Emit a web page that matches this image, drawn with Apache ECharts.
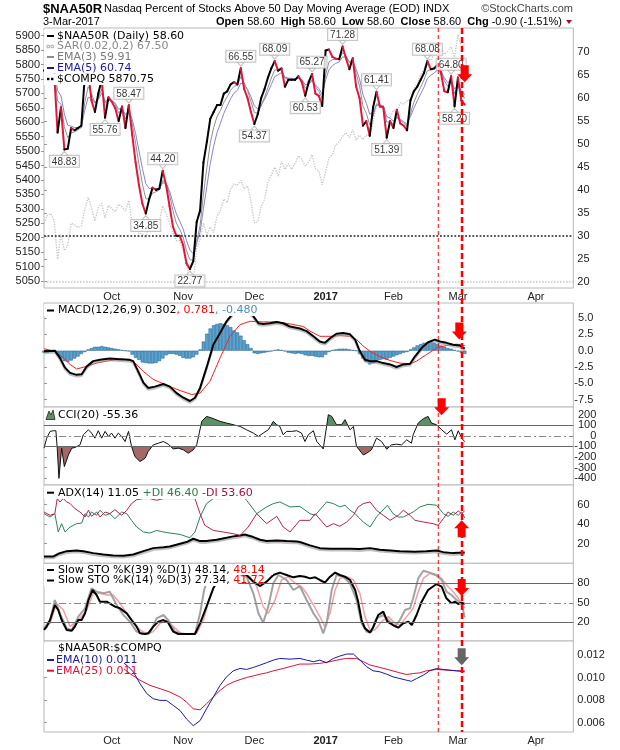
<!DOCTYPE html>
<html>
<head>
<meta charset="utf-8">
<title>$NAA50R</title>
<script src="https://cdn.jsdelivr.net/npm/echarts@6.0.0/dist/echarts.min.js"></script>
<style>
  html, body { margin: 0; padding: 0; background: #fff; }
  #chart { width: 620px; height: 750px; }
</style>
</head>
<body>
<div id="chart"></div>
<script>
// x = trading day index: 0 is 2-Sep-2016, 124 is 3-Mar-2017, the axis runs on into April
const lastDay = 156
const monthTicks = [20, 41, 62, 83, 103, 122, 145]
const monthNames = ["Oct", "Nov", "Dec", "2017", "Feb", "Mar", "Apr"]

const naaTicks = [20, 25, 30, 35, 40, 45, 50, 55, 60, 65, 70]
const compqTicks = [5050, 5100, 5150, 5200, 5250, 5300, 5350, 5400, 5450, 5500, 5550, 5600, 5650, 5700, 5750, 5800, 5850, 5900]
const macdTicks = [-7.5, -5, -2.5, 0, 2.5, 5]
const cciTicks = [-400, -300, -200, -100, 0, 100, 200]
const adxTicks = [20, 40, 60]
const stoTicks = [20, 50, 80]
const ratioTicks = [0.006, 0.008, 0.010, 0.012]

// $NAA50R daily close
const naa50r = [66.0, 67.0, 67.5, 65.5, 52.5, 58.0, 48.83, 49.0, 53.5, 53.0,
    53.5, 54.0, 64.5, 66.0, 59.5, 57.0, 61.0, 64.0, 55.76, 60.2,
    59.2, 57.8, 55.0, 58.2, 53.5, 58.47, 52.0, 46.0, 41.0, 37.0,
    34.85, 38.0, 40.5, 40.0, 40.3, 44.2, 41.0, 36.5, 32.0, 30.0,
    30.0, 28.0, 24.0, 22.77, 24.5, 33.0, 35.5, 46.0, 50.5, 55.5,
    57.0, 58.5, 58.5, 61.0, 61.5, 63.0, 63.5, 63.0, 66.55, 62.0,
    60.0, 57.0, 54.37, 56.5, 60.0, 62.0, 64.5, 66.5, 68.09, 66.0,
    66.5, 62.5, 64.0, 64.0, 64.0, 64.8, 63.5, 60.53, 63.5, 65.27,
    61.0, 60.5, 58.3, 70.4, 70.6, 69.0, 68.6, 68.5, 71.28, 68.7,
    66.3, 68.7, 62.5, 60.0, 54.0, 55.0, 51.8, 58.0, 61.41, 58.2,
    58.0, 51.39, 55.0, 53.5, 57.5, 54.5, 54.0, 53.0, 59.5, 61.5,
    62.5, 64.0, 65.5, 68.08, 66.3, 66.5, 67.3, 65.5, 61.5, 61.3,
    64.8, 58.2, 64.5, 59.5, 58.6]

const ema3 = [66.0, 66.5, 67.0, 66.3, 59.4, 58.7, 53.8, 51.4, 52.4, 52.7,
    53.1, 53.6, 59.0, 62.5, 61.0, 59.0, 60.0, 62.0, 58.9, 59.5,
    59.4, 58.6, 56.8, 57.5, 55.5, 57.0, 54.5, 50.2, 45.6, 41.3,
    38.1, 38.0, 39.3, 39.6, 40.0, 42.1, 41.5, 39.0, 35.5, 32.8,
    31.4, 29.7, 26.8, 24.8, 24.7, 28.8, 32.2, 39.1, 44.8, 50.2,
    53.6, 56.0, 57.3, 59.1, 60.3, 61.7, 62.6, 62.8, 64.7, 63.3,
    61.7, 59.3, 56.9, 56.7, 58.3, 60.2, 62.3, 64.4, 66.2, 66.1,
    66.3, 64.4, 64.2, 64.1, 64.0, 64.4, 64.0, 62.2, 62.9, 64.1,
    62.5, 61.5, 59.9, 65.1, 67.9, 68.4, 68.5, 68.5, 69.9, 69.3,
    67.8, 68.2, 65.4, 62.7, 58.3, 56.7, 54.2, 56.1, 58.8, 58.5,
    58.2, 54.8, 54.9, 54.2, 55.9, 55.2, 54.6, 53.8, 56.6, 59.1,
    60.8, 62.4, 64.0, 66.0, 66.2, 66.3, 66.8, 66.2, 63.8, 62.6,
    63.7, 61.0, 62.7, 61.1, 59.91]

const ema5 = [66.0, 66.3, 66.7, 66.3, 61.7, 60.5, 56.6, 54.1, 53.9, 53.6,
    53.6, 53.7, 57.3, 60.2, 60.0, 59.0, 59.7, 61.1, 59.3, 59.6,
    59.5, 58.9, 57.6, 57.8, 56.4, 57.1, 55.4, 52.3, 48.5, 44.7,
    41.4, 40.3, 40.4, 40.3, 40.3, 41.6, 41.4, 39.8, 37.2, 34.8,
    33.2, 31.5, 29.0, 26.9, 26.1, 28.4, 30.8, 35.9, 40.8, 45.7,
    49.5, 52.5, 54.5, 56.7, 58.3, 59.9, 61.1, 61.7, 63.3, 62.9,
    61.9, 60.3, 58.3, 57.7, 58.5, 59.7, 61.3, 63.0, 64.7, 65.1,
    65.6, 64.6, 64.4, 64.3, 64.2, 64.4, 64.1, 62.9, 63.1, 63.8,
    62.9, 62.1, 60.8, 64.0, 66.2, 67.1, 67.6, 67.9, 69.0, 68.9,
    68.0, 68.2, 66.3, 64.2, 60.8, 58.9, 56.5, 57.0, 58.5, 58.4,
    58.3, 56.0, 55.7, 55.0, 55.8, 55.4, 54.9, 54.3, 56.0, 57.8,
    59.4, 60.9, 62.4, 64.3, 65.0, 65.5, 66.1, 65.9, 64.4, 63.4,
    63.9, 62.0, 62.8, 61.7, 60.74]

// $COMPQ close, left scale
const compq = [5249.9, 5275.9, 5283.9, 5259.5, 5125.9, 5211.9, 5155.3, 5173.8, 5249.7, 5244.6,
    5235.0, 5241.4, 5295.2, 5339.5, 5305.8, 5257.5, 5305.7, 5318.6, 5269.2, 5312.0,
    5300.9, 5289.7, 5316.0, 5306.9, 5292.4, 5328.7, 5246.8, 5239.0, 5213.3, 5214.2,
    5199.8, 5243.8, 5246.4, 5241.8, 5257.4, 5309.8, 5283.4, 5250.3, 5215.9, 5190.1,
    5189.1, 5153.6, 5105.6, 5058.4, 5046.4, 5166.2, 5193.5, 5251.1, 5208.8, 5237.1,
    5218.4, 5275.6, 5294.6, 5333.9, 5321.5, 5368.9, 5386.4, 5380.7, 5398.9, 5368.8,
    5379.9, 5323.7, 5251.1, 5255.7, 5308.9, 5333.0, 5393.8, 5417.4, 5444.5, 5412.5,
    5463.8, 5436.7, 5456.9, 5437.2, 5457.4, 5483.9, 5471.4, 5447.4, 5462.7, 5487.4,
    5438.6, 5432.1, 5383.1, 5429.1, 5477.0, 5487.9, 5521.1, 5531.8, 5551.8, 5563.6,
    5547.5, 5574.1, 5538.7, 5555.6, 5540.1, 5555.3, 5552.9, 5600.9, 5656.3, 5655.2,
    5660.8, 5613.7, 5614.8, 5642.6, 5636.2, 5666.8, 5663.5, 5674.2, 5682.4, 5715.2,
    5734.1, 5763.9, 5782.6, 5819.4, 5814.9, 5838.6, 5865.9, 5860.6, 5835.5, 5845.3,
    5861.9, 5825.4, 5904.0, 5861.2, 5870.75]

// [day, value, label above (t) or below (b)]
const peakLabels = [[6, 48.83, "b"], [18, 55.76, "b"], [25, 58.47, "t"], [30, 34.85, "b"],
    [35, 44.20, "t"], [43, 22.77, "b"], [58, 66.55, "t"], [62, 54.37, "b"], [68, 68.09, "t"],
    [77, 60.53, "b"], [79, 65.27, "t"], [88, 71.28, "t"], [98, 61.41, "t"], [101, 51.39, "b"],
    [113, 68.08, "t"], [120, 64.80, "t"], [121, 58.20, "b"]]

// MACD(12,26,9)
const macdLine = [[0, -0.1], [3.2, 0.0], [4.7, -1.1], [6.2, -2.6], [7.7, -3.4], [9.6, -3.7], [11.1, -3.6],
    [12.6, -2.4], [14.5, -1.6], [16.5, -1.4], [19.4, -1.2], [22.4, -1.3], [25.3, -1.4], [26.3, -1.6],
    [27.8, -3.2], [29.3, -4.9], [30.7, -5.7], [32.7, -5.5], [35.2, -5.1], [37.1, -5.5], [39.1, -6.5],
    [41.1, -7.2], [43.0, -7.7], [44.5, -7.2], [46.0, -5.7], [47.9, -2.6], [49.9, 0.9], [51.9, 2.7],
    [53.8, 4.5], [55.8, 5.8], [57.5, 6.5], [59.5, 6.4], [61.7, 5.3], [63.2, 4.2], [64.6, 4.1],
    [66.6, 4.2], [68.6, 4.4], [70.5, 4.2], [72.5, 3.7], [75.4, 3.4], [77.4, 3.0], [79.4, 2.2],
    [81.3, 1.4], [82.8, 1.2], [84.3, 1.9], [86.2, 2.6], [88.2, 2.7], [90.2, 2.5], [91.7, 1.7],
    [93.1, -0.1], [94.6, -1.4], [96.1, -1.6], [98.0, -1.6], [100.0, -1.9], [102.0, -2.1],
    [103.9, -2.5], [105.9, -2.1], [107.9, -2.0], [109.3, -0.9], [111.3, 0.4], [113.2, 1.3],
    [115.2, 1.7], [116.7, 1.4], [118.6, 1.2], [120.6, 0.9], [122.5, 0.8], [124, 0.302]]
const macdSignal = [[0, 0.3], [3.2, -0.1], [5.7, -1.1], [7.7, -2.1], [9.6, -2.8], [12.6, -2.4],
    [15.5, -1.9], [19.4, -1.5], [23.4, -1.3], [26.3, -1.6], [29.3, -3.2], [32.2, -4.4], [36.2, -5.3],
    [40.1, -6.1], [43.5, -6.7], [46.0, -6.5], [48.9, -4.7], [51.9, -1.1], [54.8, 2.2], [57.8, 4.0],
    [60.7, 4.5], [64.6, 4.4], [68.6, 4.4], [72.5, 4.1], [76.4, 3.7], [78.4, 3.0], [81.3, 2.2],
    [84.3, 2.2], [87.2, 2.3], [90.2, 2.2], [92.1, 1.7], [94.1, 0.7], [96.1, -0.1], [99.0, -0.9],
    [102.0, -1.5], [104.9, -1.9], [107.9, -2.0], [109.8, -1.6], [112.7, -0.6], [115.7, 0.4],
    [118.6, 0.8], [121.6, 1.0], [124, 0.781]]
const macdHist = [-0.3, -0.3, -0.2, 0.0, -0.6, -1.2, -1.6, -1.7, -1.5, -1.2, -0.9, -0.5, -0.2,
    0.2, 0.4, 0.6, 0.6, 0.7, 0.6, 0.5, 0.4, 0.3, 0.2, 0.1, 0.0, -0.1,
    -0.6, -1.1, -1.4, -1.8, -1.9, -1.95, -1.95, -1.9, -1.6, -1.2, -0.7, -0.5, -0.5, -0.6, -0.8,
    -1.1, -1.2, -1.2, -1.0, -0.6, 0.2,
    1.4, 2.6, 3.4, 3.9, 4.1, 4.2, 4.1, 3.9, 3.6, 3.1, 2.8, 2.3, 1.6, 1.0, 0.4,
    -0.4, -0.5, -0.4, -0.3, -0.2, -0.1, 0.1, 0.2, 0.1, -0.1, -0.3, -0.4, -0.5, -0.4, -0.5, -0.7, -0.8,
    -0.8, -0.9, -1.0, -1.0, -0.6, -0.2, 0.1, 0.2, 0.3, 0.3,
    0.3, 0.2, 0.1, 0.0, -0.5, -1.2, -1.7, -2.1, -1.9, -1.6,
    -1.4, -1.3, -1.4, -1.1, -0.9, -0.7, -0.5, -0.3, -0.2, 0.2,
    0.5, 0.8, 1.0, 1.2, 1.3, 1.3, 1.2, 1.0, 0.8, 0.6,
    0.4, 0.3, 0.1, -0.1, -0.3, -0.48]

// CCI(20)
const cci = [[0, -117], [0.8, -22], [1.8, 42], [2.8, 48], [3.5, 48], [3.9, -117], [4.4, -403],
    [5.2, -117], [6.0, -292], [7.2, -181], [8.2, -117], [9.1, -111], [10.6, -86], [11.6, 10],
    [13.1, 57], [14.0, 26], [15.0, -22], [16.0, 48], [17.0, -22], [18.0, 42], [19.0, -6], [19.9, 26],
    [20.9, -22], [21.9, 26], [22.9, -6], [23.9, -54], [24.9, 42], [25.8, -101], [26.8, -197],
    [28.3, -244], [29.8, -212], [30.7, -149], [32.2, -86], [33.7, -70], [35.2, -54], [36.6, -79],
    [38.1, -124], [39.6, -117], [41.1, -133], [42.5, -165], [44.0, -133], [45.0, -86], [46.5, 137],
    [47.9, 184], [49.4, 169], [51.9, 137], [53.8, 121], [55.8, 105], [57.8, 89], [59.7, 57],
    [61.7, 26], [63.2, -6], [64.6, 26], [66.1, 57], [67.6, 137], [68.6, 105], [69.5, 89], [70.5, 10],
    [71.5, 42], [73.0, 42], [74.5, 48], [75.9, 26], [76.9, -54], [77.9, 10], [79.4, 48], [80.4, -54],
    [82.3, -124], [83.8, 200], [84.8, 184], [86.2, 105], [87.7, 105], [88.7, 153], [90.2, 57],
    [91.2, 89], [92.1, -101], [94.1, -181], [95.1, -165], [96.5, -133], [98.0, -22], [99.5, -54],
    [101.0, -127], [102.4, -86], [103.9, -79], [105.4, -86], [106.9, -38], [108.3, -70], [108.8, 10],
    [110.3, 121], [111.8, 162], [113.2, 184], [114.2, 121], [115.7, 105], [117.2, 57], [118.7, 16],
    [120.1, 57], [121.1, -38], [122.1, 48], [123.1, -22], [124, -55.36]]

// ADX(14), +DI, -DI
const adx = [[0, 7.0], [2.8, 7.0], [4.2, 9.7], [6.7, 12.4], [9.6, 13.1], [11.6, 12.4], [14.5, 10.4],
    [17.5, 9.0], [20.4, 8.0], [23.4, 7.7], [26.3, 9.0], [29.3, 12.4], [32.2, 15.5], [35.2, 16.5],
    [37.1, 17.2], [40.1, 20.0], [42.0, 21.7], [44.0, 25.1], [46.0, 22.7], [47.9, 22.7], [50.9, 24.1],
    [53.8, 26.1], [55.8, 27.5], [57.8, 28.5], [59.2, 29.5], [61.7, 26.8], [63.7, 24.1], [65.6, 22.7],
    [68.6, 23.4], [71.5, 22.7], [74.5, 22.3], [75.4, 21.7], [78.4, 18.3], [81.3, 15.5], [84.3, 14.8],
    [90.2, 14.8], [93.1, 14.5], [96.1, 15.5], [99.0, 13.8], [102.0, 13.1], [104.9, 12.4],
    [109.3, 11.8], [112.7, 12.4], [115.7, 13.1], [117.7, 11.4], [120.6, 10.4], [124, 11.05]]
const plusDI = [[0, 50.8], [1.8, 47.3], [3.2, 50.7], [4.2, 32.0], [5.2, 40.5], [6.2, 32.0], [7.7, 37.1],
    [9.6, 40.5], [11.1, 41.1], [12.1, 50.7], [13.1, 47.3], [14.0, 52.4], [15.5, 49.0], [16.5, 54.2],
    [18.0, 49.0], [19.4, 50.7], [20.9, 45.6], [22.9, 52.4], [24.4, 50.7], [25.8, 43.9], [27.3, 37.1],
    [29.3, 32.0], [31.2, 30.9], [33.2, 33.6], [35.2, 32.0], [37.1, 30.9], [40.1, 29.5], [43.0, 26.1],
    [44.5, 32.0], [46.0, 47.3], [47.9, 61.0], [49.9, 66.1], [54.8, 66.1], [56.8, 68.0], [58.8, 68.0],
    [59.7, 64.4], [62.7, 50.7], [65.6, 57.6], [67.6, 61.0], [69.5, 62.7], [72.5, 57.6], [75.4, 58.2],
    [78.4, 50.7], [79.9, 49.0], [83.3, 62.7], [85.3, 61.0], [87.2, 57.6], [88.7, 59.3], [90.2, 54.2],
    [91.7, 50.7], [92.6, 47.3], [94.1, 42.2], [96.1, 37.1], [98.0, 47.3], [101.2, 59.3], [102.9, 50.7],
    [104.4, 47.3], [105.9, 47.3], [108.8, 52.4], [110.8, 57.6], [113.2, 60.3], [115.7, 59.3],
    [117.7, 50.7], [119.1, 48.0], [120.6, 52.4], [122.1, 49.0], [123.1, 52.4], [124, 46.4]]
const minusDI = [[0, 52.4], [1.8, 49.0], [3.2, 50.7], [3.9, 66.1], [4.7, 62.7], [5.7, 66.1], [6.7, 62.7],
    [7.7, 61.0], [9.1, 55.9], [10.6, 52.4], [12.1, 47.3], [13.1, 54.2], [14.0, 47.9], [15.5, 52.4],
    [16.5, 47.3], [18.0, 52.4], [19.4, 50.7], [20.9, 54.8], [22.9, 49.0], [24.4, 54.2], [25.8, 61.0],
    [27.3, 65.0], [29.3, 66.1], [31.2, 66.1], [33.2, 64.4], [35.2, 66.1], [38.1, 66.1], [42.0, 66.1],
    [44.5, 66.1], [46.0, 50.7], [47.4, 38.8], [49.9, 33.6], [52.8, 32.0], [55.8, 30.2], [57.8, 28.5],
    [60.2, 37.1], [62.7, 50.7], [65.6, 40.5], [68.6, 48.0], [70.5, 37.1], [72.5, 32.0], [75.4, 43.9],
    [78.4, 43.9], [79.9, 50.7], [83.3, 37.1], [85.3, 40.5], [87.2, 37.8], [89.2, 42.2], [91.2, 49.0],
    [92.6, 57.6], [94.1, 61.0], [96.1, 62.7], [98.0, 54.2], [100.0, 49.0], [102.0, 43.9], [104.4, 49.0],
    [105.9, 54.2], [107.9, 49.0], [109.3, 43.9], [111.8, 42.2], [114.7, 40.5], [116.2, 38.8],
    [117.7, 45.6], [119.1, 52.4], [120.6, 49.0], [122.1, 53.5], [123.1, 50.7], [124, 53.6]]

// Slow STO %K(39) %D(1), and %K(14) with %D(3)
const stoK39 = [[0, 8.2], [0.8, 13.3], [1.8, 23.5], [3.2, 46.6], [4.2, 38.9], [5.2, 23.5], [6.7, 8.2],
    [8.2, 7.1], [9.1, 13.3], [10.1, 23.5], [11.1, 23.5], [12.1, 33.8], [13.1, 54.3], [14.3, 69.7],
    [15.5, 62.0], [16.5, 51.7], [18.5, 51.7], [20.9, 44.1], [22.4, 41.5], [24.4, 33.8], [25.8, 23.5],
    [27.3, 13.3], [28.3, 3.0], [29.8, 2.0], [30.7, 3.0], [32.2, 13.3], [33.7, 21.0], [35.2, 23.5],
    [36.6, 19.4], [38.1, 5.6], [39.6, 2.0], [44.5, 2.0], [46.0, 18.4], [47.9, 44.1], [49.9, 72.3],
    [51.9, 90], [55.8, 99], [59.7, 92.8], [61.7, 82.5], [63.7, 75.8], [65.6, 82.5], [67.6, 92.8],
    [69.5, 96.4], [71.5, 92.8], [73.5, 89.2], [75.4, 91.3], [76.9, 90.2], [78.4, 87.6], [79.9, 89.2],
    [81.3, 85.1], [82.8, 81.0], [84.3, 90.2], [85.8, 96.4], [87.2, 92.8], [88.7, 90.2], [90.2, 85.1],
    [91.7, 69.7], [92.6, 51.7], [93.6, 23.5], [94.6, 10.7], [96.1, 4.1], [97.1, 13.3], [98.5, 31.2],
    [100.0, 36.4], [101.2, 21.0], [102.9, 15.8], [104.4, 11.7], [105.9, 18.4], [107.4, 21.0],
    [108.4, 15.8], [109.8, 31.2], [111.3, 51.7], [113.2, 69.7], [115.7, 78.9], [117.2, 74.8],
    [118.6, 56.9], [120.1, 49.2], [121.1, 51.7], [122.1, 48.2], [123.1, 50.2], [124, 48.14]]
const stoK14 = [[0, 10.7], [1.8, 23.5], [3.2, 54.3], [4.7, 33.8], [6.7, 10.7], [8.2, 8.2], [10.1, 28.7],
    [12.1, 41.5], [14.0, 72.3], [15.5, 67.1], [17.5, 64.6], [19.4, 67.1], [21.4, 46.6], [23.4, 31.2],
    [25.3, 21.0], [27.3, 5.6], [29.3, 2.0], [31.2, 3.0], [33.2, 26.1], [35.2, 31.2], [36.6, 23.5],
    [38.6, 5.6], [40.6, 2.0], [44.5, 2.0], [46.0, 33.8], [47.2, 69.7], [48.4, 90.2], [50.5, 98],
    [53, 99], [56, 97], [59.7, 90.2], [61.7, 64.6], [63.2, 33.8], [64.6, 19.4], [66.1, 44.1],
    [67.6, 80.0], [69.1, 92.8], [71.5, 85.1], [73.5, 69.7], [75.4, 75.8], [77.4, 54.3], [79.4, 33.8],
    [80.8, 23.5], [82.3, 3.0], [83.3, 18.4], [84.8, 69.7], [86.2, 92.8], [88.2, 90.2], [90.2, 80.0],
    [92.1, 54.3], [93.6, 18.4], [95.1, 5.6], [96.5, 5.6], [98.0, 26.1], [100.0, 31.2], [101.5, 23.5],
    [103.4, 13.3], [104.9, 23.5], [106.4, 38.9], [107.9, 41.5], [108.8, 56.9], [110.3, 87.6],
    [111.8, 99.4], [113.7, 96.4], [115.7, 92.8], [117.2, 85.1], [118.6, 67.1], [120.1, 62.0],
    [121.6, 54.3], [123.1, 49.2], [124, 27.34]]
const stoD3 = [[0, 12.0], [1.8, 18.4], [3.7, 49.2], [5.7, 38.9], [7.7, 13.3], [10.6, 26.1], [12.6, 38.9],
    [14.5, 64.6], [16.5, 64.6], [18.5, 62.0], [20.4, 62.0], [22.4, 49.2], [24.4, 33.8], [26.3, 21.0],
    [28.3, 8.2], [30.3, 2.0], [32.2, 5.6], [34.2, 18.4], [36.1, 23.5], [38.1, 13.3], [40.1, 4.1],
    [42.0, 2.0], [45.0, 3.0], [47.0, 23.5], [48.9, 59.4], [51, 85], [54, 97], [57, 96], [60.7, 90.2],
    [62.7, 74.8], [64.6, 44.1], [66.1, 33.8], [68.1, 54.3], [70.0, 85.1], [72.0, 90.2], [74.0, 80.0],
    [75.9, 74.8], [77.4, 64.6], [79.4, 46.6], [81.3, 28.7], [82.8, 13.3], [84.3, 33.8], [85.8, 69.7],
    [87.2, 87.6], [89.2, 90.2], [91.2, 85.1], [93.1, 64.6], [94.6, 28.7], [96.1, 8.2], [97.5, 8.2],
    [99.5, 21.0], [101.5, 28.7], [103.4, 18.4], [104.9, 15.8], [106.9, 28.7], [108.8, 41.5],
    [110.3, 67.1], [111.8, 87.6], [113.7, 95.3], [115.7, 91.3], [117.2, 87.6], [119.1, 74.8],
    [120.6, 67.1], [122.1, 56.9], [124, 41.72]]

// $NAA50R:$COMPQ ratio, EMA(10) and EMA(25)
const ratioEma10 = [[23.4, 0.01132], [24.9, 0.01096], [26.3, 0.01051], [28.3, 0.00946], [30.3, 0.00857],
    [32.2, 0.00812], [34.2, 0.00797], [36.1, 0.00797], [38.1, 0.00752], [40.1, 0.00707], [42.0, 0.00632],
    [44.0, 0.00572], [46.0, 0.00617], [47.9, 0.00722], [49.9, 0.00827], [51.9, 0.00931], [53.8, 0.01006],
    [55.8, 0.01060], [57.8, 0.01081], [59.7, 0.01072], [61.7, 0.01090], [63.7, 0.01111], [65.6, 0.01132],
    [67.6, 0.01155], [69.5, 0.01170], [72.5, 0.01164], [75.4, 0.01170], [77.4, 0.01155], [79.4, 0.01141],
    [81.3, 0.01155], [83.3, 0.01132], [85.3, 0.01170], [87.2, 0.01191], [89.2, 0.01209], [91.2, 0.01209],
    [93.1, 0.01155], [95.1, 0.01096], [97.0, 0.01060], [99.0, 0.01051], [101.0, 0.01030], [102.9, 0.01006],
    [104.9, 0.00991], [106.9, 0.00976], [108.3, 0.00967], [109.8, 0.00991], [111.8, 0.01021],
    [113.7, 0.01060], [115.7, 0.01081], [117.7, 0.01072], [119.6, 0.01066], [121.6, 0.01060], [124, 0.01051]]
const ratioEma25 = [[23.4, 0.01081], [25.3, 0.01036], [28.3, 0.00976], [31.2, 0.00931], [34.2, 0.00901],
    [37.1, 0.00871], [40.1, 0.00827], [42.0, 0.00782], [44.0, 0.00722], [46.0, 0.00713], [47.9, 0.00767],
    [49.9, 0.00827], [51.9, 0.00886], [53.8, 0.00931], [55.8, 0.00961], [57.8, 0.00982], [59.7, 0.01000],
    [61.7, 0.01015], [63.7, 0.01030], [65.6, 0.01042], [67.6, 0.01060], [70.5, 0.01081], [73.5, 0.01105],
    [75.4, 0.01120], [78.4, 0.01120], [81.3, 0.01126], [84.3, 0.01141], [87.2, 0.01161], [89.2, 0.01170],
    [92.1, 0.01170], [94.1, 0.01141], [96.1, 0.01111], [99.0, 0.01090], [102.0, 0.01066], [104.9, 0.01042],
    [106.9, 0.01027], [108.8, 0.01036], [110.8, 0.01042], [112.7, 0.01060], [115.7, 0.01072],
    [118.6, 0.01066], [121.6, 0.01060], [124, 0.01060]]

// annotations: dashed day markers and arrows [xAxis, yAxis, day, value, direction, colour]
const markDays = [116.2, 123.2]
const arrows = [[0, 0, 124, 63.5, "down", "#ff0000"], [1, 2, 122.4, 1.7, "down", "#ff0000"],
    [2, 3, 117.2, 194, "down", "#ff0000"], [3, 4, 123.1, 43.9, "up", "#ff0000"],
    [4, 5, 123.1, 60.5, "down", "#ff0000"], [5, 6, 123.1, 0.0111, "down", "#666666"]]

const RED = "#e0173d"
const SANS = '"Liberation Sans", Arial, sans-serif'
const VERD = '"DejaVu Sans", Verdana, sans-serif'
const LEG = "11px " + VERD

const daily = arr => arr.map((v, i) => [i, v])

const gridDefs = [[28, 260], [303, 104], [407, 78], [485, 78.3], [563.3, 77.7], [641, 91]]
const grids = gridDefs.map(g => ({
    left: 44, right: 46.7, top: g[0], height: g[1],
    show: true, borderColor: "#b8b8b8", borderWidth: 1, backgroundColor: "#fff",
}))

const xAxes = gridDefs.map((g, i) => {
    const shown = i === 0 || i === 5
    return {
        type: "value", gridIndex: i, min: 0, max: lastDay,
        axisLine: { show: false }, splitLine: { show: false }, axisTick: { show: false },
        axisLabel: {
            show: shown, customValues: monthTicks, margin: 3,
            fontSize: 11, fontFamily: SANS, color: "#222",
            formatter: v => {
                const n = monthNames[monthTicks.indexOf(v)]
                return n === "2017" ? "{b|2017}" : n
            },
            rich: { b: { fontWeight: "bold", fontSize: 11, fontFamily: SANS, color: "#222" } },
        },
    }
})

function valueAxis(grid, pos, min, max, ticks, label) {
    return {
        type: "value", gridIndex: grid, position: pos, min: min, max: max,
        splitLine: { show: false },
        axisLine: { show: false },
        axisTick: { show: true, customValues: ticks, length: 3, lineStyle: { color: "#999" } },
        axisLabel: Object.assign({
            customValues: ticks, fontSize: 11, fontFamily: SANS, color: "#222", margin: 4,
            formatter: v => String(v),
        }, label),
    }
}

const yAxes = [
    valueAxis(0, "right", 18.63, 75.3, naaTicks, {}),
    valueAxis(0, "left", 5025.7, 5926.6, compqTicks, {}),
    valueAxis(1, "right", -8.62, 7.3, macdTicks, { align: "right", margin: 20, formatter: v => v.toFixed(1) }),
    valueAxis(2, "right", -466, 273, cciTicks, { show: false }),  // labels are too tight for the axis, drawn below
    valueAxis(3, "right", 0, 80, adxTicks, {}),
    valueAxis(4, "right", -8.8, 110.8, stoTicks, {}),
    valueAxis(5, "right", 0.00516, 0.01325, ratioTicks, { formatter: v => v.toFixed(3) }),
]

function line(xi, yi, data, color, width, extra) {
    return Object.assign({
        type: "line", xAxisIndex: xi, yAxisIndex: yi, data: data,
        showSymbol: false, symbol: "none", silent: true,
        lineStyle: { color: color, width: width }, z: 3,
    }, extra)
}

const shadow = { shadowColor: "rgba(150,150,150,0.6)", shadowBlur: 0, shadowOffsetY: 1.8 }

function hLines(items) {
    return {
        symbol: "none", silent: true, label: { show: false }, animation: false,
        data: items.map(it => ({ yAxis: it[0], lineStyle: { color: it[1], width: it[2], type: it[3] } })),
    }
}

const dashDot = [7, 3, 2, 3]
const pointerDown = "path://M0,0 L10,0 L5,7 Z"
const pointerUp = "path://M5,0 L10,7 L0,7 Z"

const series = [
    line(0, 1, daily(compq), "#c4c4c4", 1.3, { lineStyle: { color: "#c4c4c4", width: 1.3, type: "dotted" }, z: 2 }),
    line(0, 0, daily(ema5), "#8585cf", 1, {
        markLine: hLines([[30, "#555", 1.8, "dotted"], [20, "#c4c4c4", 1.5, "dotted"]]),
    }),
    line(0, 0, daily(ema3), "#909090", 1),
    {
        type: "custom", xAxisIndex: 0, yAxisIndex: 0, silent: true, z: 5,
        data: naa50r.map((v, i) => [i, v, i > 0 ? naa50r[i - 1] : v]),
        encode: { x: 0, y: 1 },
        renderItem: (params, api) => {
            const i = api.value(0)
            if (i === 0) return
            const p0 = api.coord([i - 1, api.value(2)])
            const p1 = api.coord([i, api.value(1)])
            return {
                type: "line",
                shape: { x1: p0[0], y1: p0[1], x2: p1[0], y2: p1[1] },
                style: { stroke: api.value(1) < api.value(2) ? RED : "#000", lineWidth: 2, lineCap: "round" },
            }
        },
    },
    {
        type: "scatter", xAxisIndex: 0, yAxisIndex: 0, silent: true, z: 6,
        itemStyle: { color: "#fff", borderColor: "#b4b4b4", borderWidth: 1 },
        data: peakLabels.map(p => {
            const top = p[2] === "t"
            return {
                value: [p[0], p[1]],
                symbol: top ? pointerDown : pointerUp,
                symbolSize: [7, 4],
                symbolOffset: [0, top ? -4 : 4],
                label: { position: top ? "top" : "bottom" },
            }
        }),
        label: {
            show: true, distance: 0, formatter: p => p.value[1].toFixed(2),
            fontSize: 10, fontFamily: SANS, color: "#000", backgroundColor: "#fff",
            borderColor: "#b4b4b4", borderWidth: 1, padding: [1, 2, 0, 2],
        },
    },
    {
        type: "bar", xAxisIndex: 1, yAxisIndex: 2, silent: true, data: daily(macdHist),
        barWidth: 3.4, itemStyle: { color: "#58a4d2", borderColor: "#1d5a86", borderWidth: 0.5 }, z: 2,
    },
    line(1, 2, macdSignal, "#ff2020", 1),
    line(1, 2, macdLine, "#000", 2, { lineStyle: Object.assign({ color: "#000", width: 2 }, shadow) }),
    line(2, 3, cci, "#000", 0, { lineStyle: { width: 0, opacity: 0 }, areaStyle: { opacity: 1 }, z: 2 }),
    line(2, 3, cci, "#111", 1, {
        markLine: hLines([[100, "#666", 1, "solid"], [-100, "#666", 1, "solid"], [0, "#888", 1, dashDot]]),
    }),
    line(3, 4, adx, "#000", 2, { lineStyle: Object.assign({ color: "#000", width: 2 }, shadow) }),
    line(3, 4, plusDI, "#2e8256", 1),
    line(3, 4, minusDI, "#b0244e", 1),
    line(4, 5, stoD3, "#f2a0a6", 1.5, {
        markLine: hLines([[80, "#666", 1, "solid"], [20, "#666", 1, "solid"], [50, "#888", 1, dashDot]]),
    }),
    line(4, 5, stoK14, "#a2a2a2", 2),
    line(4, 5, stoK39, "#000", 2),
    line(5, 6, ratioEma25, "#e0103a", 1),
    line(5, 6, ratioEma10, "#1a1a9a", 1),
]

const option = {
    animation: false,
    backgroundColor: "#fff",
    textStyle: { fontFamily: SANS },
    grid: grids,
    xAxis: xAxes,
    yAxis: yAxes,
    visualMap: [{
        type: "piecewise", show: false, seriesIndex: 8, dimension: 1,
        pieces: [
            { gt: 100, color: "#5f8f66" },
            { lt: -100, color: "#a46868" },
            { gte: -100, lte: 100, color: "rgba(255,255,255,0)" },
        ],
    }],
    series: series,
}

const chart = echarts.init(document.getElementById("chart"))
chart.setOption(option)

// ---- text, legends and annotations drawn on top ----
function txt(x, y, text, font, fill, align) {
    return {
        type: "text", x: x, y: y, z: 70, silent: true,
        style: { text: text, font: font, fill: fill || "#000", verticalAlign: "middle", align: align || "left" },
    }
}
function rtxt(x, y, text, font, rich, align) {
    const r = {}
    Object.keys(rich).forEach(k => { r[k] = { fill: rich[k][0], font: rich[k][1] || font } })
    return {
        type: "text", x: x, y: y, z: 70, silent: true,
        style: { text: text, font: font, fill: "#000", verticalAlign: "middle", align: align || "left", rich: r },
    }
}
function box(x, y, w, h) {
    return { type: "rect", z: 65, silent: true, shape: { x: x, y: y, width: w, height: h }, style: { fill: "#fff" } }
}
function dash(y, color) {
    return { type: "rect", z: 70, silent: true, shape: { x: 47, y: y - 1, width: 7, height: 2 }, style: { fill: color } }
}
function dot(x, y, fill, stroke) {
    return { type: "rect", z: 70, silent: true, shape: { x: x, y: y - 1.2, width: 2.4, height: 2.4 },
        style: { fill: fill, stroke: stroke, lineWidth: stroke ? 0.8 : 0 } }
}

const HEAD = "11px " + SANS
const graphics = [
    txt(43, 9, "$NAA50R", "bold 13px " + SANS),
    txt(104, 9, "Nasdaq Percent of Stocks Above 50 Day Moving Average (EOD) INDX", HEAD),
    txt(573, 9, "©StockCharts.com", HEAD, "#444", "right"),
    txt(43, 22, "3-Mar-2017", HEAD),
    rtxt(562, 22, "{b|Open} 58.60  {b|High} 58.60  {b|Low} 58.60  {b|Close} 58.60  {b|Chg} -0.90 (-1.51%)", HEAD,
        { b: ["#000", "bold 11px " + SANS] }, "right"),
    { type: "polygon", z: 70, silent: true, shape: { points: [[566, 20], [572, 20], [569, 24]] }, style: { fill: "#a0102a" } },

    // price panel legend
    box(44, 29.5, 144, 11), box(44, 40.5, 126, 11), box(44, 51.5, 88, 11), box(44, 62.5, 75, 11), box(44, 73.5, 98, 11.5),
    dash(36, "#000"), txt(57, 36, "$NAA50R (Daily) 58.60", LEG),
    dot(47, 46.5, "#fff", "#999"), dot(51, 46.5, "#fff", "#999"), txt(57, 46.5, "SAR(0.02,0.2) 67.50", LEG, "#8a8a8a"),
    dash(57, "#8c8c8c"), txt(57, 57, "EMA(3) 59.91", LEG, "#7a7a7a"),
    dash(68, "#1a1a8c"), txt(57, 68, "EMA(5) 60.74", LEG, "#1a1aa0"),
    dot(47, 79, "#000"), dot(51, 79, "#000"), txt(57, 79, "$COMPQ 5870.75", LEG),

    // MACD
    box(44, 304, 222, 12), dash(310.5, "#000"),
    rtxt(58, 310.5, "{a|MACD(12,26,9) 0.302}{r|, 0.781}{t|, -0.480}", LEG, { a: ["#000"], r: ["#ff0000"], t: ["#4a90b8"] }),

    // CCI
    box(44, 408, 102, 13),
    { type: "polygon", z: 70, silent: true, shape: { points: [[46, 419.5], [49, 411], [51, 415], [53, 410], [55, 419.5]] },
        style: { fill: "#5f8f66", stroke: "#222", lineWidth: 0.8 } },
    txt(58, 414.7, "CCI(20) -55.36", LEG),

    // ADX
    box(44, 486, 217, 13), dash(492.7, "#000"),
    rtxt(58, 492.7, "{a|ADX(14) 11.05 }{g|+DI 46.40 }{r|-DI 53.60}", LEG, { a: ["#000"], g: ["#2a7a4a"], r: ["#a01040"] }),

    // STO
    box(44, 564, 229, 11), box(44, 575, 194, 11),
    dash(570, "#000"), rtxt(58, 570, "{a|Slow STO %K(39) %D(1) 48.14, }{r|48.14}", LEG, { a: ["#000"], r: ["#ff0000"] }),
    dash(580.5, "#000"), rtxt(58, 580.5, "{a|Slow STO %K(14) %D(3) 27.34, }{r|41.72}", LEG, { a: ["#000"], r: ["#ff0000"] }),

    // ratio
    box(44, 642.5, 122, 11.5), box(44, 654, 80, 22.5),
    txt(58, 648.3, "$NAA50R:$COMPQ", LEG),
    dash(660, "#1a1a9a"), txt(56, 660, "EMA(10) 0.011", LEG, "#1a1a9a"),
    dash(670.7, "#e0103a"), txt(56, 670.7, "EMA(25) 0.011", LEG, "#e0103a"),
]

// CCI scale labels, placed from the CCI axis
const plotRight = chart.convertToPixel({ xAxisIndex: 2 }, lastDay)
cciTicks.forEach(v => {
    const y = chart.convertToPixel({ xAxisIndex: 2, yAxisIndex: 3 }, [0, v])[1]
    graphics.push(txt(plotRight + 23, y, String(v), "11px " + SANS, "#222", "right"))
})

// vertical day markers across every panel
const topY = chart.convertToPixel({ xAxisIndex: 0, yAxisIndex: 0 }, [0, 75.3])[1]
const botY = chart.convertToPixel({ xAxisIndex: 5, yAxisIndex: 6 }, [0, 0.00516])[1]
markDays.forEach((d, k) => {
    const x = chart.convertToPixel({ xAxisIndex: 0 }, d)
    graphics.push({
        type: "line", z: 75, silent: true,
        shape: { x1: x, y1: topY, x2: x, y2: botY },
        style: { stroke: "#ff0000", lineWidth: k === 0 ? 1 : 2.5, lineDash: k === 0 ? [4, 3] : [6, 3] },
    })
})

// block arrows, tip at the data point
arrows.forEach(a => {
    const p = chart.convertToPixel({ xAxisIndex: a[0], yAxisIndex: a[1] }, [a[2], a[3]])
    const s = a[4] === "down" ? -1 : 1
    const x = p[0], y = p[1]
    graphics.push({
        type: "polygon", z: 80, silent: true,
        shape: { points: [[x - 4, y + s * 17], [x + 4, y + s * 17], [x + 4, y + s * 8], [x + 7.5, y + s * 8],
            [x, y], [x - 7.5, y + s * 8], [x - 4, y + s * 8]] },
        style: { fill: a[5] },
    })
})

chart.setOption({ graphic: graphics })
</script>
</body>
</html>
